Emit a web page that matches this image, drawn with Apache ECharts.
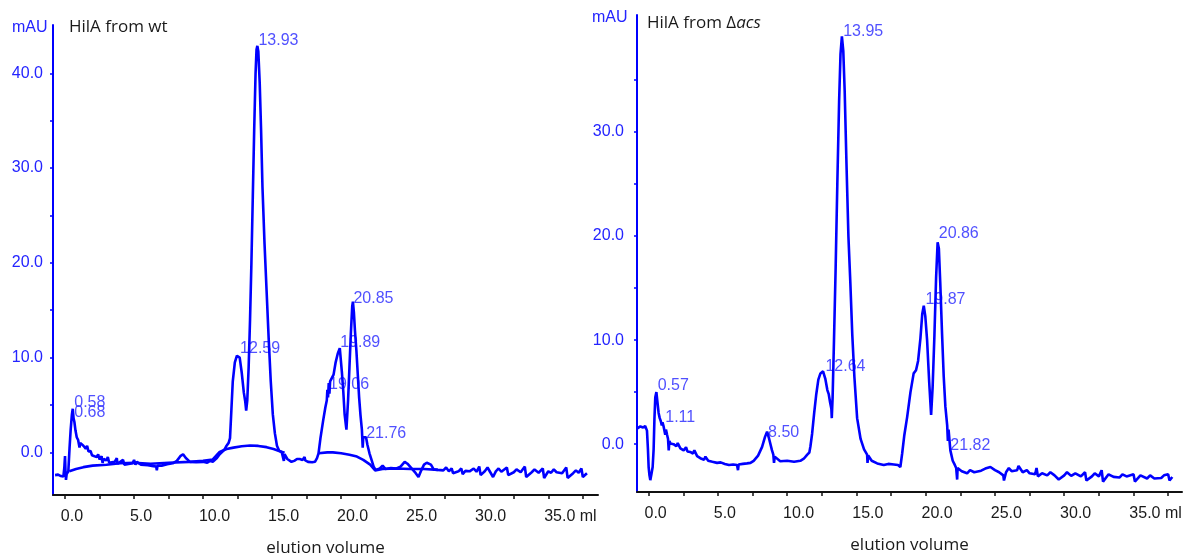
<!DOCTYPE html>
<html>
<head>
<meta charset="utf-8">
<script src="https://cdn.jsdelivr.net/npm/echarts@6.0.0/dist/echarts.min.js"></script>
<style>
  html, body { margin: 0; padding: 0; background: #ffffff; }
  #chart { width: 1189px; height: 557px; }
</style>
</head>
<body>
<div id="chart"></div>
<script>
// ---- data (elution volume ml, absorbance mAU) ----

// HilA from wt
const wtTrace = [
  [-0.72, -2.4], [-0.5, -2.35], [-0.3, -2.5], [-0.12, -2.55], [-0.05, -1.6], [0.0, -0.4], [0.04, -2.2],
  [0.07, -2.9], [0.12, -2.3], [0.24, -2.0], [0.33, 0.5], [0.41, 2.4], [0.5, 4.0], [0.56, 4.6], [0.62, 3.6],
  [0.68, 3.2], [0.76, 2.3], [0.85, 1.6], [0.95, 1.3], [1.05, 0.5], [1.1, 1.0], [1.2, 0.8], [1.33, 0.7],
  [1.5, 0.4], [1.6, 0.7], [1.7, 0.1], [1.85, 0.15], [1.95, -0.3], [2.05, -0.3], [2.3, -0.5], [2.4, -0.2],
  [2.5, -0.75], [2.65, -0.4], [2.72, -1.1], [2.8, -0.7], [3.0, -0.85], [3.1, -0.5], [3.2, -1.1], [3.3, -0.9],
  [3.6, -1.0], [3.75, -0.6], [3.8, -1.2], [4.0, -1.0], [4.2, -0.8], [4.3, -1.3], [4.4, -1.1], [4.9, -1.15],
  [5.0, -0.8], [5.1, -1.3], [5.2, -1.0], [5.5, -1.3], [6.0, -1.35], [6.4, -1.45], [6.6, -1.5], [6.65, -1.9],
  [6.7, -1.4], [7.0, -1.4], [7.4, -1.25], [7.8, -1.15], [8.1, -0.9], [8.35, -0.4], [8.55, -0.2], [8.75, -0.6],
  [9.05, -1.0], [9.5, -1.05], [10.0, -1.0], [10.3, -1.1], [10.5, -0.9], [10.7, -1.0], [11.0, -0.6], [11.2, -0.2],
  [11.35, 0.0], [11.55, 0.3], [11.7, 0.7], [11.85, 1.0], [11.95, 1.5], [12.05, 4.5], [12.15, 7.5], [12.3, 9.5],
  [12.45, 10.2], [12.55, 10.4], [12.65, 10.0], [12.8, 8.4], [12.95, 6.3], [13.05, 5.4], [13.12, 4.4], [13.2, 5.5],
  [13.3, 9.0], [13.4, 14.0], [13.5, 20.0], [13.6, 27.0], [13.7, 34.0], [13.8, 40.0], [13.87, 42.5], [13.93, 42.9],
  [14.0, 42.3], [14.1, 39.0], [14.2, 34.0], [14.3, 28.0], [14.45, 22.0], [14.6, 17.0], [14.75, 12.0], [14.9, 7.5],
  [15.05, 4.0], [15.2, 2.0], [15.35, 0.7], [15.5, 0.2], [15.7, 0.0], [15.8, -0.1], [15.85, -0.9], [15.9, -0.2],
  [16.1, -0.7], [16.4, -1.0], [16.6, -0.9], [16.8, -0.7], [17.0, -0.7], [17.2, -0.8], [17.35, -0.5], [17.4, -0.85],
  [17.6, -1.0], [17.9, -1.05], [18.1, -1.0], [18.25, -0.6], [18.36, -0.1], [18.5, 1.5], [18.7, 3.4], [18.85, 4.7],
  [18.96, 5.5], [19.0, 6.6], [19.05, 5.8], [19.1, 7.3], [19.15, 6.2], [19.2, 7.5], [19.3, 7.3], [19.45, 8.2],
  [19.6, 9.5], [19.75, 10.4], [19.9, 11.0], [19.95, 10.8], [20.05, 8.5], [20.15, 6.5], [20.25, 4.0], [20.38, 2.4],
  [20.5, 5.5], [20.6, 9.0], [20.7, 12.5], [20.8, 15.4], [20.85, 15.9], [20.92, 14.8], [21.0, 12.8], [21.1, 10.8],
  [21.2, 8.3], [21.3, 5.8], [21.4, 3.9], [21.5, 2.4], [21.56, 0.5], [21.6, 1.6], [21.7, 1.6], [21.8, 1.6],
  [21.9, 0.8], [22.05, -0.1], [22.2, -0.8], [22.35, -1.5], [22.5, -1.85], [22.8, -1.7], [23.0, -1.4], [23.2, -1.75],
  [23.6, -1.65], [24.0, -1.7], [24.3, -1.5], [24.6, -1.0], [24.8, -1.2], [25.1, -1.7], [25.4, -2.2], [25.6, -2.6],
  [25.8, -1.9], [26.0, -1.3], [26.2, -1.1], [26.5, -1.3], [26.7, -1.8], [27.0, -1.85], [27.4, -1.9], [27.6, -1.6],
  [27.8, -2.0], [28.0, -1.7], [28.1, -2.2], [28.5, -2.0], [28.7, -1.7], [28.8, -2.3], [29.0, -1.95], [29.3, -2.0],
  [29.6, -1.7], [29.8, -2.05], [30.0, -1.5], [30.1, -2.4], [30.4, -2.0], [30.6, -1.6], [30.8, -2.1], [31.0, -2.6],
  [31.2, -2.0], [31.4, -1.7], [31.6, -2.05], [32.0, -1.6], [32.1, -2.4], [32.5, -2.1], [32.7, -1.8], [33.0, -2.1],
  [33.3, -1.5], [33.4, -2.6], [33.8, -2.1], [34.0, -1.8], [34.3, -2.15], [34.6, -1.7], [34.7, -2.7], [35.0, -2.0],
  [35.2, -2.15], [35.4, -1.8], [35.6, -2.1], [36.0, -2.2], [36.3, -1.6], [36.4, -2.7], [36.8, -2.2], [37.0, -1.9],
  [37.2, -2.15], [37.4, -1.7], [37.5, -2.6], [37.8, -2.2]
];

// fitted baselines drawn under the wt trace
const wtBaseA = [
  [0.31, -2.0], [0.8, -1.75], [1.33, -1.56], [2.0, -1.4], [3.0, -1.3], [4.0, -1.15], [5.0, -1.1],
  [6.2, -1.2], [7.5, -1.1], [9.0, -1.0], [10.0, -0.9], [10.7, -0.75], [11.2, 0.05], [11.7, 0.35],
  [12.2, 0.5], [12.8, 0.65], [13.4, 0.72], [14.0, 0.68], [14.6, 0.55], [15.1, 0.35], [15.5, 0.15], [15.9, -0.05]
];
const wtBaseB = [
  [18.36, -0.1], [19.0, 0.0], [19.4, 0.0], [20.0, -0.1], [20.6, -0.25], [21.14, -0.44], [21.6, -0.8],
  [22.1, -1.3], [22.46, -1.9], [23.0, -1.75], [24.0, -1.7], [25.0, -1.75], [26.0, -1.75], [27.0, -1.85]
];

// HilA from Δacs
const acsTrace = [
  [-0.84, 1.5], [-0.6, 1.7], [-0.4, 1.6], [-0.25, 1.75], [-0.12, 1.3], [-0.05, -0.5], [0.0, -2.2], [0.06, -3.0],
  [0.12, -3.46], [0.2, -2.9], [0.29, -2.2], [0.36, -0.5], [0.42, 2.5], [0.48, 4.5], [0.56, 5.0], [0.64, 4.0],
  [0.72, 3.0], [0.8, 2.5], [0.88, 2.2], [0.95, 1.8], [1.0, 2.1], [1.08, 1.7], [1.15, 1.6], [1.2, 0.9], [1.25, 1.4],
  [1.33, 0.9], [1.4, 0.5], [1.45, -0.6], [1.5, 0.3], [1.57, 0.07], [1.8, 0.0], [2.0, -0.2], [2.1, 0.1], [2.29, -0.4],
  [2.53, -0.6], [2.7, -0.3], [2.8, -0.7], [3.0, -0.75], [3.2, -0.9], [3.3, -0.6], [3.5, -1.15], [3.73, -1.35],
  [4.0, -1.5], [4.1, -1.2], [4.3, -1.6], [4.6, -1.7], [4.94, -1.8], [5.2, -1.75], [5.5, -1.9], [5.8, -2.0],
  [6.1, -1.95], [6.38, -2.0], [6.45, -2.5], [6.5, -1.95], [6.8, -1.9], [7.1, -1.85], [7.35, -1.8], [7.58, -1.6],
  [7.9, -1.1], [8.19, -0.26], [8.4, 0.7], [8.55, 1.2], [8.7, 0.5], [8.9, -0.58], [9.0, -1.0], [9.05, -1.8],
  [9.1, -1.2], [9.5, -1.65], [10.0, -1.6], [10.5, -1.7], [10.95, -1.6], [11.2, -1.4], [11.45, -1.0], [11.6, -0.8],
  [11.68, -0.2], [11.8, 1.0], [11.95, 3.0], [12.1, 4.8], [12.25, 6.2], [12.4, 6.8], [12.59, 7.0], [12.75, 6.3],
  [12.9, 5.2], [13.0, 4.8], [13.1, 4.0], [13.19, 3.4], [13.22, 2.5], [13.28, 4.5], [13.38, 10.0], [13.5, 17.0],
  [13.62, 25.0], [13.75, 33.0], [13.85, 37.5], [13.95, 39.2], [14.05, 37.8], [14.15, 34.0], [14.28, 27.0],
  [14.42, 20.0], [14.56, 15.5], [14.7, 10.5], [14.85, 6.5], [15.05, 2.5], [15.3, 0.5], [15.55, -0.5], [15.77, -1.0],
  [15.8, -1.8], [15.85, -1.1], [16.1, -1.6], [16.5, -1.85], [16.97, -2.0], [17.3, -1.9], [17.7, -1.95], [18.0, -2.0],
  [18.17, -2.2], [18.3, -0.9], [18.45, 0.8], [18.66, 2.6], [18.9, 5.0], [19.13, 6.8], [19.3, 7.1], [19.45, 8.0],
  [19.62, 10.2], [19.75, 12.5], [19.86, 13.3], [19.97, 12.3], [20.1, 10.0], [20.25, 6.0], [20.39, 2.8], [20.5, 5.5],
  [20.63, 10.5], [20.75, 16.0], [20.86, 19.4], [20.95, 18.8], [21.05, 15.5], [21.18, 10.6], [21.3, 6.5],
  [21.42, 3.6], [21.55, 1.8], [21.6, 0.3], [21.65, 1.4], [21.78, -0.6], [21.95, -1.6], [22.1, -2.0], [22.2, -2.3],
  [22.27, -3.4], [22.3, -2.3], [22.6, -2.6], [22.99, -2.8], [23.2, -2.5], [23.5, -2.7], [24.0, -2.55], [24.3, -2.35],
  [24.67, -2.2], [25.0, -2.5], [25.3, -2.7], [25.6, -3.0], [25.65, -3.5], [25.8, -2.7], [26.0, -2.3], [26.2, -2.6],
  [26.6, -2.5], [26.7, -2.1], [27.0, -2.7], [27.3, -2.5], [27.5, -2.8], [27.9, -2.9], [28.0, -2.3], [28.1, -3.1],
  [28.4, -2.8], [28.77, -3.0], [29.0, -2.7], [29.3, -3.0], [29.6, -3.4], [30.0, -3.0], [30.2, -2.7], [30.5, -3.05],
  [30.8, -2.8], [31.2, -3.1], [31.5, -2.7], [31.6, -3.5], [32.0, -3.1], [32.2, -2.8], [32.5, -3.1], [32.7, -2.5],
  [32.8, -3.6], [33.2, -2.9], [33.56, -3.15], [34.0, -3.2], [34.2, -2.9], [34.5, -3.1], [35.0, -2.9], [35.1, -3.6],
  [35.5, -3.0], [35.98, -3.3], [36.2, -3.0], [36.5, -3.3], [37.0, -3.25], [37.2, -3.0], [37.5, -2.9], [37.6, -3.5],
  [37.8, -3.15]
];

// peak annotations: [x, y, text] (text anchor, left / vertical middle)
const wtPeaks = [
  [0.67, 5.28, '0.58'], [0.67, 4.22, '0.68'], [12.68, 11.0, '12.59'], [14.01, 43.45, '13.93'],
  [19.12, 7.13, '19.06'], [19.93, 11.6, '19.89'], [20.89, 16.2, '20.85'], [21.81, 2.03, '21.76']
];
const acsPeaks = [
  [0.65, 5.6, '0.57'], [1.2, 2.55, '1.11'], [8.62, 1.1, '8.50'], [12.76, 7.5, '12.64'],
  [14.04, 39.7, '13.95'], [19.98, 13.94, '19.87'], [20.94, 20.2, '20.86'], [21.78, -0.1, '21.82']
];

// axis ticks / labels
const xTicks = [0, 2.5, 5, 7.5, 10, 12.5, 15, 17.5, 20, 22.5, 25, 27.5, 30, 32.5, 35, 37.5];
const xLabels = [0, 5, 10, 15, 20, 25, 30, 35];
const wtYTicks = [0, 5, 10, 15, 20, 25, 30, 35, 40];
const wtYLabels = [0, 10, 20, 30, 40];
const acsYTicks = [0, 5, 10, 15, 20, 25, 30, 35];
const acsYLabels = [0, 10, 20, 30];

const BLUE = '#0000ff';
const BLUE_TEXT = '#2424ff';
const SANS = '"Liberation Sans", Arial, sans-serif';
const HUMAN = '"Open Sans", sans-serif';
// labels sit a few px left of their tick
const LABEL_SHIFT = 0.3;

const panels = [
  { left: 53, top: 25, width: 545, height: 470, xMin: -0.87, xMax: 38.6, yMin: -4.5, yMax: 45.1,
    yTicks: wtYTicks, yLabels: wtYLabels, yLabelMargin: 10 },
  { left: 637, top: 15, width: 545, height: 477, xMin: -0.84, xMax: 38.5, yMin: -4.6, yMax: 41.25,
    yTicks: acsYTicks, yLabels: acsYLabels, yLabelMargin: 13 }
];

const grid = panels.map((p) => ({
  left: p.left, top: p.top, width: p.width, height: p.height, outerBoundsMode: 'none'
}));

const xAxis = [];
const yAxis = [];
panels.forEach((p, i) => {
  xAxis.push({
    type: 'value', gridIndex: i, position: 'bottom', min: p.xMin, max: p.xMax,
    axisLine: { onZero: false, lineStyle: { color: '#111', width: 2 } },
    axisTick: { customValues: xTicks, length: 4, lineStyle: { color: '#111', width: 1.5 } },
    axisLabel: { show: false },
    splitLine: { show: false }
  });
  xAxis.push({
    type: 'value', gridIndex: i, position: 'bottom', offset: 0,
    min: p.xMin + LABEL_SHIFT, max: p.xMax + LABEL_SHIFT,
    axisLine: { show: false },
    axisTick: { show: false },
    axisLabel: {
      customValues: xLabels, align: 'left', margin: 14,
      color: '#1a1a1a', fontFamily: SANS, fontSize: 16,
      formatter: (v) => (v === 35 ? '35.0 ml' : v.toFixed(1))
    },
    splitLine: { show: false },
    name: 'elution volume', nameLocation: 'middle', nameGap: 45,
    nameTextStyle: { color: '#1a1a1a', fontFamily: HUMAN, fontSize: 17 }
  });
  yAxis.push({
    type: 'value', gridIndex: i, min: p.yMin, max: p.yMax,
    axisLine: { show: true, onZero: false, lineStyle: { color: BLUE, width: 2 } },
    axisTick: { show: true, customValues: p.yTicks, length: 3, lineStyle: { color: BLUE, width: 1.5 } },
    axisLabel: {
      customValues: p.yLabels, margin: p.yLabelMargin,
      color: BLUE_TEXT, fontFamily: SANS, fontSize: 16,
      formatter: (v) => v.toFixed(1)
    },
    splitLine: { show: false }
  });
});

function traceSeries(data, idx) {
  return {
    type: 'line', data, xAxisIndex: idx * 2, yAxisIndex: idx,
    showSymbol: false, symbol: 'none', smooth: false,
    lineStyle: { color: BLUE, width: 2.6 }, silent: true
  };
}

function peakSeries(data, idx) {
  return {
    type: 'scatter', data, xAxisIndex: idx * 2, yAxisIndex: idx,
    symbolSize: 0, silent: true,
    label: {
      show: true, position: [0, 0], align: 'left', verticalAlign: 'middle',
      color: BLUE_TEXT, fontFamily: SANS, fontSize: 16,
      formatter: (prm) => prm.value[2]
    }
  };
}

const option = {
  animation: false,
  backgroundColor: '#ffffff',
  grid,
  xAxis,
  yAxis,
  title: [
    { text: 'HilA from wt', left: 69, top: 19, padding: 0,
      textStyle: { color: '#1a1a1a', fontFamily: HUMAN, fontSize: 17, fontWeight: 'normal' } },
    { text: '{n|HilA from Δ}{i|acs}', left: 647, top: 15, padding: 0,
      textStyle: {
        fontWeight: 'normal',
        rich: {
          n: { color: '#1a1a1a', fontFamily: HUMAN, fontSize: 17, fontWeight: 'normal' },
          i: { color: '#1a1a1a', fontFamily: HUMAN, fontSize: 17, fontWeight: 'normal', fontStyle: 'italic' }
        }
      } }
  ],
  graphic: [
    { type: 'text', left: 12, top: 20, style: { text: 'mAU', fill: BLUE_TEXT, font: '16px ' + SANS } },
    { type: 'text', left: 592, top: 10, style: { text: 'mAU', fill: BLUE_TEXT, font: '16px ' + SANS } }
  ],
  series: [
    traceSeries(wtTrace, 0),
    traceSeries(wtBaseA, 0),
    traceSeries(wtBaseB, 0),
    peakSeries(wtPeaks, 0),
    traceSeries(acsTrace, 1),
    peakSeries(acsPeaks, 1)
  ]
};

const chart = echarts.init(document.getElementById('chart'), null, { renderer: 'canvas' });
chart.setOption(option);
</script>
</body>
</html>
